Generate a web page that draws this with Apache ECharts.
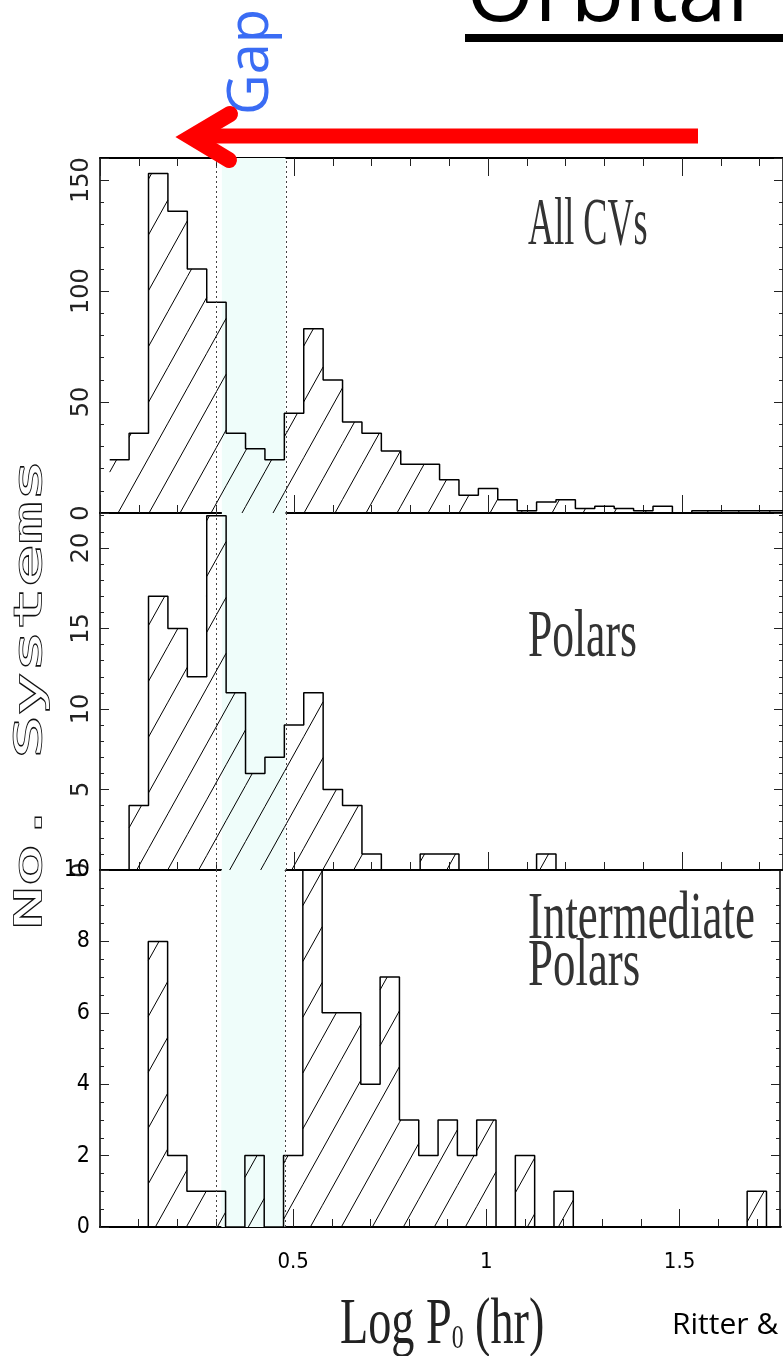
<!DOCTYPE html>
<html>
<head>
<meta charset="utf-8">
<script src="https://cdn.jsdelivr.net/npm/echarts@6/dist/echarts.min.js"></script>
<style>
html,body{margin:0;padding:0;background:#fff;overflow:hidden;}
#c{width:783px;height:1356px;}
</style>
</head>
<body>
<div id="c"></div>
<script>
// ---- data ----
const binCenters = [0.05,0.10,0.15,0.20,0.25,0.30,0.35,0.40,0.45,0.50,0.55,0.60,0.65,0.70,0.75,0.80,0.85,0.90,0.95,1.00,1.05,1.10,1.15,1.20,1.25,1.30,1.35,1.40,1.45,1.50,1.55,1.60,1.65,1.70,1.75];
const binWidth = 0.05;
const allCVs = [24,36,153,136,110,95,36,29,24,45,83,60,41,36,28,22,22,15,8,11,6,1,5,6,2,3,2,1,3,0,1,1,1,1,1];
const polars = [0,4,17,15,12,22,11,6,7,9,11,5,4,1,0,0,1,1,0,0,0,0,1,0,0,0,0,0,0,0,0,0,0,0,0];
const intermediatePolars = [0,0,8,2,1,1,0,2,0,2,10,6,6,4,7,3,2,3,2,3,0,2,0,1,0,0,0,0,0,0,0,0,0,1,0];
const panelNames = ['All CVs', 'Polars', 'Intermediate\nPolars'];
const xTickLabels = ['0.5', '1', '1.5'];
const gapLines = [0.301, 0.477];
const gapShade = [0.314, 0.478];
const xRange = [0, 1.76];
const yRanges = [[0, 160], [0, 22.17], [0, 10]];
const yMinorSteps = [10, 1, 0.5];
const yMajorSteps = [50, 5, 2];

// ---- layout / style ----
const NARROW = "'Liberation Sans Narrow','DejaVu Sans Condensed','Liberation Sans',sans-serif";
const gridTops = [158, 513, 870];
const gridHeights = [355, 357, 357];
const gridLeft = 100, gridWidth = 684.6;
const HATCH_GAP = 31, HATCH_SLOPE = 1.8;

function isMultiple(v, step) {
  const r = v / step;
  return Math.abs(r - Math.round(r)) < 1e-6;
}

// hatch lines "/" clipped to a pixel rectangle, with a global phase
function hatchLines(xl, xr, yt, yb) {
  const out = [];
  const s = HATCH_SLOPE;
  const cMin = xl + yt / s, cMax = xr + yb / s;
  const k0 = Math.ceil(cMin / HATCH_GAP), k1 = Math.floor(cMax / HATCH_GAP);
  for (let k = k0; k <= k1; k++) {
    const C = k * HATCH_GAP;
    const ya = Math.max(yt, (C - xr) * s);
    const yb2 = Math.min(yb, (C - xl) * s);
    if (ya < yb2 - 0.5) {
      out.push({ type: 'line', shape: { x1: C - yb2 / s, y1: yb2, x2: C - ya / s, y2: ya }, style: { stroke: '#000', lineWidth: 1 } });
    }
  }
  return out;
}

const chart = echarts.init(document.getElementById('c'), null, { renderer: 'canvas' });
const panels = [allCVs, polars, intermediatePolars];
const grid = [], xAxis = [], yAxis = [], series = [];

panels.forEach((vals, g) => {
  grid.push({ left: gridLeft, top: gridTops[g], width: gridWidth, height: gridHeights[g] });
  const xi = xAxis.length;
  const baseX = { gridIndex: g, type: 'value', min: xRange[0], max: xRange[1], splitLine: { show: false }, axisLabel: { show: false }, axisLine: { show: false, onZero: false } };
  const positions = g === 0 ? ['bottom', 'top'] : ['bottom'];
  positions.forEach(pos => {
    xAxis.push(Object.assign({}, baseX, {
      position: pos, interval: 0.1,
      axisLine: { show: true, onZero: false, lineStyle: { color: '#000', width: 2 } },
      axisTick: { show: true, inside: true, length: 8, lineStyle: { color: '#222', width: 1 } }
    }));
    xAxis.push(Object.assign({}, baseX, {
      position: pos, interval: 0.5,
      axisTick: { show: true, inside: true, length: 18, lineStyle: { color: '#222', width: 1 } },
      axisLabel: (g === 2 && pos === 'bottom') ? {
        show: true, margin: 24, fontFamily: NARROW, fontSize: 22, color: '#000',
        showMinLabel: true, showMaxLabel: true,
        formatter: v => { const s = String(Math.round(v * 100) / 100); return xTickLabels.indexOf(s) >= 0 ? s : ''; }
      } : { show: false }
    }));
  });

  const yi = yAxis.length;
  const baseY = { gridIndex: g, type: 'value', min: yRanges[g][0], max: yRanges[g][1], splitLine: { show: false }, axisLabel: { show: false }, axisLine: { show: false, onZero: false } };
  ['left', 'right'].forEach(pos => {
    yAxis.push(Object.assign({}, baseY, {
      position: pos, interval: yMinorSteps[g],
      axisLine: { show: true, onZero: false, lineStyle: { color: '#000', width: 1.5 } },
      axisTick: { show: true, inside: true, length: 4, lineStyle: { color: '#222', width: 1 } }
    }));
    let lab = { show: false };
    if (pos === 'left') {
      const fmt = v => isMultiple(v, yMajorSteps[g]) ? String(Math.round(v)) : '';
      lab = g < 2
        ? { show: true, rotate: 90, margin: 6, fontFamily: "'DejaVu Sans',sans-serif", fontSize: 24, color: '#222', formatter: fmt, showMinLabel: true, showMaxLabel: true }
        : { show: true, margin: 10, fontFamily: NARROW, fontSize: 23, color: '#000', formatter: fmt, showMinLabel: true, showMaxLabel: true };
    }
    yAxis.push(Object.assign({}, baseY, {
      position: pos, interval: yMajorSteps[g],
      axisTick: { show: true, inside: true, length: 9, lineStyle: { color: '#222', width: 1 } },
      axisLabel: lab
    }));
  });

  // gap shading (below everything)
  series.push({
    type: 'line', xAxisIndex: xi, yAxisIndex: yi, data: [[0, 0]], symbol: 'none',
    lineStyle: { opacity: 0 }, z: 1, silent: true,
    markArea: { silent: true, itemStyle: { color: '#effdfa' }, data: [[{ xAxis: gapShade[0] }, { xAxis: gapShade[1] }]] }
  });
  // hatched histogram fill
  series.push({
    type: 'custom', xAxisIndex: xi, yAxisIndex: yi, z: 2, silent: true, clip: true,
    data: binCenters.map((c, i) => [c, vals[i]]),
    renderItem: (params, api) => {
      const x = api.value(0), v = api.value(1);
      if (!v) return null;
      const p0 = api.coord([x - binWidth / 2, v]);
      const p1 = api.coord([x + binWidth / 2, 0]);
      return { type: 'group', children: hatchLines(p0[0], p1[0], p0[1], p1[1]) };
    }
  });
  // step outline
  const steps = binCenters.map((c, i) => [c - binWidth / 2, vals[i]]);
  steps.push([binCenters[binCenters.length - 1] + binWidth / 2, vals[vals.length - 1]]);
  series.push({
    type: 'line', xAxisIndex: xi, yAxisIndex: yi, step: 'end', symbol: 'none', z: 3, silent: true,
    data: steps, lineStyle: { color: '#000', width: 1.5 },
    markLine: {
      silent: true, symbol: ['none', 'none'], label: { show: false },
      lineStyle: { color: '#444', type: [2, 3], width: 1 },
      data: gapLines.map(v => ({ xAxis: v }))
    }
  });
});

const labelBaselines = [203, 615, 897];
const labelScales = [0.54, 0.65, 0.67];
const graphic = [];
panelNames.forEach((t, i) => {
  graphic.push({
    type: 'text', x: 528, y: labelBaselines[i], scaleX: labelScales[i], z: 50,
    style: { text: t, fill: '#333', fontFamily: "'Liberation Serif',serif", fontSize: 67, lineHeight: 47, textAlign: 'left', textVerticalAlign: 'top' }
  });
});
// y axis title
graphic.push({
  type: 'text', x: 31, y: 694, rotation: Math.PI / 2, scaleX: 1.92, z: 50,
  style: { text: 'No. Systems', fill: '#fff', stroke: '#111', lineWidth: 1.7, fontFamily: "'DejaVu Sans Mono',monospace", fontSize: 37, textAlign: 'center', textVerticalAlign: 'middle' }
});
// x axis title
graphic.push({
  type: 'text', x: 340, y: 1296, scaleX: 0.7, z: 50,
  style: {
    text: '{m|Log P}{s|0}{m| (hr)}', textAlign: 'left', textVerticalAlign: 'top',
    rich: {
      m: { fontFamily: "'Liberation Serif',serif", fontSize: 66, lineHeight: 60, fill: '#222' },
      s: { fontFamily: "'Liberation Serif',serif", fontSize: 34, lineHeight: 14, fill: '#222', verticalAlign: 'bottom' }
    }
  }
});
// title (cropped)
graphic.push({ type: 'text', x: 466, y: -4, z: 50, style: { text: 'Orbital', fill: '#000', fontFamily: "'Open Sans',sans-serif", fontSize: 88, textAlign: 'left', textVerticalAlign: 'middle' } });
graphic.push({ type: 'rect', z: 50, shape: { x: 465, y: 34, width: 330, height: 8 }, style: { fill: '#000' } });
// credit
graphic.push({ type: 'text', x: 672, y: 1325, z: 50, style: { text: 'Ritter &', fill: '#000', fontFamily: "'Open Sans',sans-serif", fontSize: 30, textAlign: 'left', textVerticalAlign: 'middle' } });
// Gap label
graphic.push({ type: 'text', x: 252, y: 62, rotation: Math.PI / 2, z: 60, style: { text: 'Gap', fill: '#3a6cf4', fontFamily: "'Open Sans',sans-serif", fontSize: 56, textAlign: 'center', textVerticalAlign: 'middle' } });
// red arrow
graphic.push({ type: 'line', z: 60, shape: { x1: 196, y1: 136, x2: 698, y2: 136 }, style: { stroke: '#ff0000', lineWidth: 15, lineCap: 'butt' } });
graphic.push({ type: 'polyline', z: 61, shape: { points: [[230, 114], [191, 137], [229, 160]] }, style: { stroke: '#ff0000', fill: null, lineWidth: 16, lineJoin: 'miter', lineCap: 'round' } });

chart.setOption({
  animation: false,
  backgroundColor: '#fff',
  grid, xAxis, yAxis, series, graphic
});
</script>
</body>
</html>
